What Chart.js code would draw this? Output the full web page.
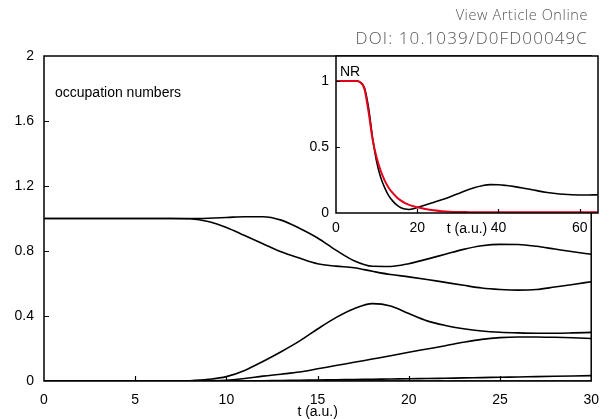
<!DOCTYPE html>
<html>
<head>
<meta charset="utf-8">
<script src="https://cdn.jsdelivr.net/npm/chart.js@4.4.0/dist/chart.umd.min.js"></script>
<style>
  html, body { margin: 0; padding: 0; background: #fff; }
  #wrap { position: relative; width: 610px; height: 419px; overflow: hidden; }
  canvas { position: absolute; }
  #main { left: 0; top: 0; }
  #inset { left: 290px; top: 40px; }
  .hdr { position: absolute; right: 22px; font-family: "Open Sans", sans-serif; font-weight: 300; color: #555; white-space: nowrap; }
  #view { top: 5px; font-size: 14.5px; line-height: 20px; letter-spacing: 0.6px; }
  #doi { top: 27px; font-size: 17px; line-height: 22px; letter-spacing: 1.1px; }
  .lbl { position: absolute; font-family: "Liberation Sans", Arial, sans-serif; font-size: 14px; line-height: 16px; color: #000; white-space: nowrap; }
  #occ { left: 55px; top: 84px; }
  #nr { left: 340px; top: 63px; }
</style>
</head>
<body>
<div id="wrap">
  <canvas id="main" width="610" height="419"></canvas>
  <canvas id="inset" width="320" height="205"></canvas>
  <div class="hdr" id="view">View Article Online</div>
  <div class="hdr" id="doi">DOI: 10.1039/D0FD00049C</div>
  <div class="lbl" id="occ">occupation numbers</div>
  <div class="lbl" id="nr">NR</div>
</div>
<script>
// main panel: occupation numbers vs t (a.u.)
const tMain = [0, 1, 2, 3, 4, 5, 6, 7, 8, 9, 10, 11, 12, 13, 14, 15, 16, 17, 18, 19, 20, 21, 22, 23, 24, 25, 26, 27, 28, 29, 30];
const occA = [1, 1, 1, 1, 1, 1, 1, 1, 1, 1.002, 1.006, 1.011, 1.011, 0.99, 0.94, 0.88, 0.805, 0.74, 0.706, 0.705, 0.722, 0.75, 0.78, 0.81, 0.832, 0.841, 0.84, 0.829, 0.812, 0.795, 0.78];
const occB = [1, 1, 1, 1, 1, 1, 1, 1, 0.998, 0.982, 0.945, 0.895, 0.845, 0.795, 0.757, 0.722, 0.707, 0.697, 0.675, 0.655, 0.641, 0.625, 0.607, 0.589, 0.572, 0.563, 0.559, 0.563, 0.578, 0.594, 0.611];
const occC = [0, 0, 0, 0, 0, 0, 0, 0, 0.002, 0.01, 0.027, 0.065, 0.12, 0.18, 0.245, 0.32, 0.39, 0.445, 0.476, 0.462, 0.415, 0.37, 0.342, 0.322, 0.308, 0.3, 0.296, 0.294, 0.294, 0.296, 0.299];
const occD = [0, 0, 0, 0, 0, 0, 0, 0, 0, 0, 0.005, 0.015, 0.03, 0.042, 0.055, 0.075, 0.095, 0.115, 0.135, 0.155, 0.177, 0.197, 0.217, 0.238, 0.256, 0.267, 0.271, 0.271, 0.269, 0.266, 0.262];
const occE = [0, 0, 0, 0, 0, 0, 0, 0, 0, 0, 0, 0, 0.002, 0.003, 0.005, 0.006, 0.008, 0.009, 0.011, 0.012, 0.014, 0.015, 0.017, 0.019, 0.021, 0.023, 0.025, 0.027, 0.029, 0.031, 0.033];
const occF = [0, 0, 0, 0, 0, 0, 0, 0, 0, 0, 0, 0, 0, 0, 0, 0, 0, 0, 0, 0, 0, 0, 0, 0, 0, 0, 0, 0, 0, 0, 0];
const mainXTicks = [0, 5, 10, 15, 20, 25, 30];
const mainYTicks = [0, 0.4, 0.8, 1.2, 1.6, 2];
const mainYLabels = ["0", "0.4", "0.8", "1.2", "1.6", "2"];

// inset: NR
const tInset = [0, 2, 4, 5, 6, 7, 8, 9, 10, 11, 12, 13, 14, 15, 16, 17, 18, 19, 20, 22, 24, 26, 28, 30, 32, 34, 36, 38, 40, 42, 44, 46, 48, 50, 52, 54, 56, 58, 60, 62, 64.5];
const nrBlack = [1, 1, 1, 1, 0.99, 0.95, 0.8, 0.57, 0.39, 0.27, 0.19, 0.13, 0.09, 0.06, 0.04, 0.03, 0.027, 0.032, 0.042, 0.06, 0.08, 0.1, 0.122, 0.145, 0.17, 0.192, 0.207, 0.215, 0.214, 0.208, 0.2, 0.19, 0.178, 0.166, 0.156, 0.148, 0.142, 0.138, 0.137, 0.137, 0.138];
const nrRed = [1, 1, 1, 1, 0.99, 0.94, 0.77, 0.56, 0.42, 0.32, 0.245, 0.19, 0.15, 0.118, 0.094, 0.075, 0.062, 0.052, 0.043, 0.03, 0.02, 0.014, 0.01, 0.008, 0.007, 0.006, 0.006, 0.005, 0.005, 0.005, 0.005, 0.005, 0.005, 0.005, 0.005, 0.005, 0.005, 0.005, 0.005, 0.005, 0.005];
const insetXTicks = [0, 20, 40, 60];
const insetYTicks = [0, 0.5, 1];
const insetYLabels = ["0", "0.5", "1"];

Chart.defaults.font.family = "'Liberation Sans', Arial, sans-serif";
Chart.defaults.color = "#000";

function toPoints(xs, ys) {
  return xs.map((x, i) => ({ x: x, y: ys[i] }));
}

function curve(xs, ys, color, width) {
  return {
    data: toPoints(xs, ys),
    borderColor: color,
    borderWidth: width,
    pointRadius: 0,
    fill: false,
    cubicInterpolationMode: "monotone",
  };
}

// white plot area, black box and gnuplot style inward ticks
const framePlugin = {
  id: "frame",
  beforeDraw(chart) {
    const a = chart.chartArea;
    chart.ctx.save();
    chart.ctx.fillStyle = "#fff";
    chart.ctx.fillRect(a.left, a.top, a.width, a.height);
    chart.ctx.restore();
  },
  afterDatasetsDraw(chart, args, opts) {
    const { ctx, chartArea: a, scales } = chart;
    const len = opts.tickLen || 5;
    ctx.save();
    ctx.strokeStyle = "#000";
    ctx.lineWidth = 1.2;
    ctx.beginPath();
    scales.x.ticks.forEach((t) => {
      if (t.value <= scales.x.min || t.value >= scales.x.max) return;
      const px = Math.round(scales.x.getPixelForValue(t.value)) + 0.5;
      ctx.moveTo(px, a.bottom);
      ctx.lineTo(px, a.bottom - len);
    });
    scales.y.ticks.forEach((t) => {
      if (t.value <= scales.y.min || t.value >= scales.y.max) return;
      const py = Math.round(scales.y.getPixelForValue(t.value)) + 0.5;
      ctx.moveTo(a.left, py);
      ctx.lineTo(a.left + len, py);
    });
    ctx.stroke();
    ctx.lineWidth = 1.5;
    ctx.strokeRect(a.left, a.top, a.right - a.left, a.bottom - a.top);
    ctx.restore();
  },
};

new Chart(document.getElementById("main"), {
  type: "line",
  data: {
    datasets: [
      curve(tMain, occA, "#000", 1.6),
      curve(tMain, occB, "#000", 1.6),
      curve(tMain, occC, "#000", 1.6),
      curve(tMain, occD, "#000", 1.6),
      curve(tMain, occE, "#000", 1.6),
      curve(tMain, occF, "#000", 1.6),
    ],
  },
  options: {
    responsive: false,
    animation: false,
    layout: { padding: { left: 0, right: 12, top: 56, bottom: 0 } },
    plugins: { legend: { display: false }, tooltip: { enabled: false }, frame: { tickLen: 5 } },
    scales: {
      x: {
        type: "linear",
        min: 0,
        max: 30,
        afterBuildTicks: (s) => { s.ticks = mainXTicks.map((v) => ({ value: v })); },
        afterFit: (s) => { s.height = 38; },
        grid: { display: false, drawTicks: false },
        border: { display: false },
        ticks: { padding: 11, maxRotation: 0, autoSkip: false, font: { size: 14 } },
        title: { display: true, text: "t (a.u.)", padding: 0, font: { size: 14, lineHeight: 1 } },
      },
      y: {
        min: 0,
        max: 2,
        afterBuildTicks: (s) => { s.ticks = mainYTicks.map((v) => ({ value: v })); },
        afterFit: (s) => { s.width = 44; },
        grid: { display: false, drawTicks: false },
        border: { display: false },
        ticks: {
          padding: 10,
          autoSkip: false,
          font: { size: 14 },
          callback: (v) => mainYLabels[mainYTicks.indexOf(v)],
        },
      },
    },
  },
  plugins: [framePlugin],
});

new Chart(document.getElementById("inset"), {
  type: "line",
  data: {
    datasets: [
      curve(tInset, nrRed, "#e3001b", 2),
      curve(tInset, nrBlack, "#000", 1.6),
    ],
  },
  options: {
    responsive: false,
    animation: false,
    layout: { padding: { left: 0, right: 12, top: 16, bottom: 0 } },
    plugins: { legend: { display: false }, tooltip: { enabled: false }, frame: { tickLen: 4 } },
    scales: {
      x: {
        type: "linear",
        min: 0,
        max: 64.5,
        afterBuildTicks: (s) => { s.ticks = insetXTicks.map((v) => ({ value: v })); },
        afterFit: (s) => { s.height = 32; },
        grid: { display: false, drawTicks: false },
        border: { display: false },
        ticks: { padding: 7, maxRotation: 0, autoSkip: false, font: { size: 14 } },
        title: { display: true, text: "t (a.u.)", padding: { top: 0, bottom: 9 }, font: { size: 14, lineHeight: 1 } },
      },
      y: {
        min: 0,
        max: 1.19,
        afterBuildTicks: (s) => { s.ticks = insetYTicks.map((v) => ({ value: v })); },
        afterFit: (s) => { s.width = 46; },
        grid: { display: false, drawTicks: false },
        border: { display: false },
        ticks: {
          padding: 7,
          autoSkip: false,
          font: { size: 14 },
          callback: (v) => insetYLabels[insetYTicks.indexOf(v)],
        },
      },
    },
  },
  plugins: [framePlugin],
});
</script>
</body>
</html>
